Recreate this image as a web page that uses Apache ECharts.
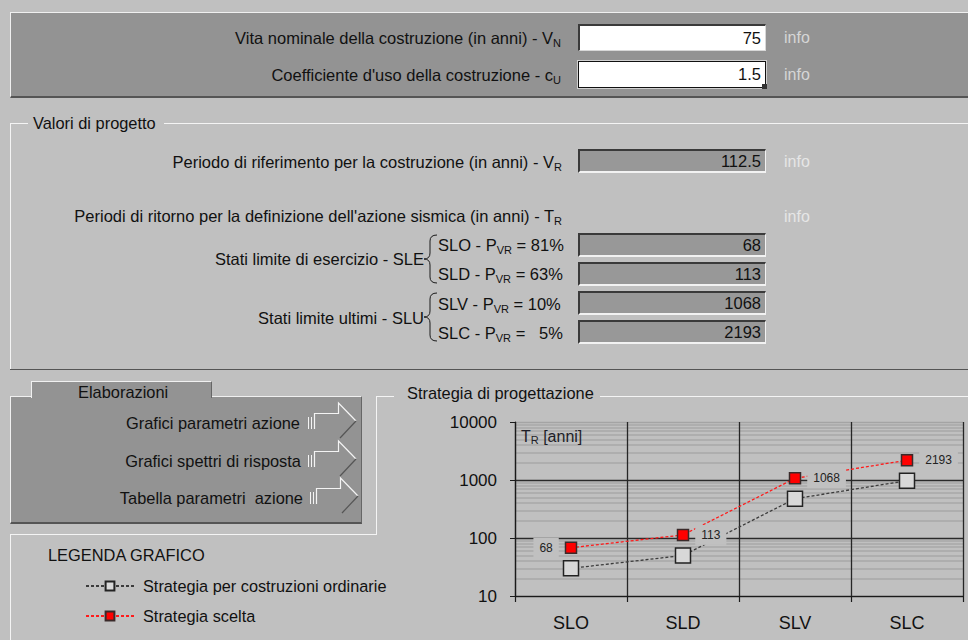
<!DOCTYPE html>
<html>
<head>
<meta charset="utf-8">
<script src="https://cdn.jsdelivr.net/npm/echarts@6.0.0/dist/echarts.min.js"></script>
<style>
  html, body { margin: 0; padding: 0; }
  body {
    width: 968px; height: 640px; overflow: hidden; position: relative;
    background: #c0c0c0;
    font: 16.5px "Liberation Sans", Arial, sans-serif; color: #111;
  }
  .abs { position: absolute; }
  .t { position: absolute; white-space: nowrap; line-height: 18px; }
  .s { font-size: 16.4px; }
  .r { text-align: right; left: 0; }
  sub { font-size: 11px; vertical-align: -3px; line-height: 0; }
  .info { position: absolute; left: 784px; line-height: 18px; color: #e6e6e6; font-size: 16px; }
  .inp {
    position: absolute; left: 578px; width: 188px; box-sizing: border-box;
    background: #fff; text-align: right; padding-right: 4px;
    border-top: 2px solid #3a3a3a; border-left: 2px solid #3a3a3a;
    border-right: 1px solid #d8d8d8; border-bottom: 1px solid #d8d8d8;
  }
  .fld {
    position: absolute; left: 578px; width: 188px; height: 24px; box-sizing: border-box;
    background: #989898; text-align: right; padding-right: 4px; line-height: 21px;
    border-top: 2px solid #3a3a3a; border-left: 2px solid #3a3a3a;
    border-right: 1px solid #f2f2f2; border-bottom: 2px solid #f2f2f2;
  }
  .wl { position: absolute; background: #f4f4f4; }
  .dl { position: absolute; background: #555; }
  #chart { position: absolute; left: 0; top: 0; width: 968px; height: 640px; z-index: 2; }
  svg.deco { position: absolute; left: 0; top: 0; z-index: 1; }
</style>
</head>
<body>

<!-- pannello superiore -->
<div class="abs" style="left:10px;top:12px;width:958px;height:86px;background:#939393;border-top:1px solid #f0f0f0;border-left:1px solid #f0f0f0;border-bottom:2px solid #555;box-sizing:border-box;"></div>
<div class="t r" style="width:561px;top:29px;">Vita nominale della costruzione (in anni) - V<sub>N</sub></div>
<div class="t r" style="width:561px;top:66px;">Coefficiente d'uso della costruzione - c<sub>U</sub></div>
<div class="inp" id="vn" style="top:24px;height:27px;line-height:24px;"></div>
<div class="inp" id="cu" style="top:61px;height:27px;line-height:24px;border:1px solid #111;outline:1px solid #d0d0d0;"></div>
<div class="abs" style="left:762px;top:84px;width:5px;height:5px;background:#333;"></div>
<div class="info" style="top:29px;color:#d6d6d6;">info</div>
<div class="info" style="top:66px;color:#d6d6d6;">info</div>

<!-- valori di progetto -->
<div class="wl" style="left:11px;top:123px;width:17px;height:1px;"></div>
<div class="wl" style="left:164px;top:123px;width:804px;height:1px;"></div>
<div class="wl" style="left:10px;top:123px;width:1px;height:247px;"></div>
<div class="dl" style="left:10px;top:369px;width:958px;height:1px;"></div>
<div class="t s" style="left:33px;top:114px;">Valori di progetto</div>

<div class="t r" style="width:562px;top:153px;">Periodo di riferimento per la costruzione (in anni) - V<sub>R</sub></div>
<div class="fld" id="vr" style="top:149px;"></div>
<div class="info" style="top:153px;">info</div>

<div class="t r" style="width:562px;top:207px;">Periodi di ritorno per la definizione dell'azione sismica (in anni) - T<sub>R</sub></div>
<div class="info" style="top:208px;">info</div>

<div class="t r" style="width:424px;top:250px;">Stati limite di esercizio - SLE</div>
<div class="t r" style="width:424px;top:309px;">Stati limite ultimi - SLU</div>
<div class="t" style="left:438px;top:236px;">SLO - P<sub>VR</sub> = 81%</div>
<div class="t" style="left:438px;top:265px;">SLD - P<sub>VR</sub> = 63%</div>
<div class="t" style="left:438px;top:295px;">SLV - P<sub>VR</sub> = 10%</div>
<div class="t" style="left:438px;top:324px;">SLC - P<sub>VR</sub> =&nbsp;&nbsp; 5%</div>
<div class="fld" id="tr0" style="top:233px;"></div>
<div class="fld" id="tr1" style="top:262px;"></div>
<div class="fld" id="tr2" style="top:291px;"></div>
<div class="fld" id="tr3" style="top:320px;"></div>

<!-- elaborazioni -->
<div class="abs" style="left:10px;top:396px;width:352px;height:128px;background:#939393;box-sizing:border-box;border-top:1px solid #f0f0f0;border-left:1px solid #f0f0f0;border-bottom:2px solid #555;border-right:1px solid #666;"></div>
<div class="abs" style="left:31px;top:381px;width:181px;height:17px;background:#939393;box-sizing:border-box;border-top:1px solid #f0f0f0;border-left:1px solid #f0f0f0;border-right:1px solid #666;"></div>
<div class="t s" style="left:78px;top:383px;">Elaborazioni</div>
<div class="t r s" style="width:300px;top:414px;">Grafici parametri azione</div>
<div class="t r s" style="width:301px;top:452px;">Grafici spettri di risposta</div>
<div class="t r s" style="width:303px;top:489px;">Tabella parametri&nbsp; azione</div>

<!-- cornici legenda / grafico -->
<div class="wl" style="left:10px;top:534px;width:367px;height:1px;"></div>
<div class="wl" style="left:10px;top:534px;width:1px;height:106px;"></div>
<div class="wl" style="left:376px;top:396px;width:1px;height:139px;"></div>
<div class="wl" style="left:376px;top:396px;width:18px;height:1px;"></div>
<div class="wl" style="left:600px;top:396px;width:368px;height:1px;"></div>
<div class="t s" style="left:407px;top:384px;">Strategia di progettazione</div>
<div class="t s" style="left:48px;top:546px;">LEGENDA GRAFICO</div>

<svg class="deco" width="968" height="640">
  <g fill="none" stroke="#1a1a1a" stroke-width="1">
    <path d="M437 235 Q430 235 430 241 L430 253 Q430 259 424 259 Q430 259 430 265 L430 277 Q430 283 437 283"/>
    <path d="M437 293 Q430 293 430 299 L430 311 Q430 317 424 317 Q430 317 430 323 L430 335 Q430 341 437 341"/>
  </g>
  <g id="arrows"></g>
</svg>

<div id="chart"></div>

<script>
// dati
const categories = ['SLO', 'SLD', 'SLV', 'SLC'];
const ordinaryTR = [30, 50, 475, 975];     // strategia per costruzioni ordinarie
const chosenTR = [68, 113, 1068, 2193];    // strategia scelta
const yTicks = [10, 100, 1000, 10000];
const minorGrid = [20, 30, 40, 50, 60, 70, 80, 90,
                   200, 300, 400, 500, 600, 700, 800, 900,
                   2000, 3000, 4000, 5000, 6000, 7000, 8000, 9000];
const vn = 75, cu = 1.5, vr = 112.5;

document.getElementById('vn').textContent = vn;
document.getElementById('cu').textContent = cu;
document.getElementById('vr').textContent = vr;
chosenTR.forEach(function (v, i) {
  document.getElementById('tr' + i).textContent = v;
});

// frecce dei pulsanti
(function () {
  const g = document.getElementById('arrows');
  const ys = [423, 461, 498];
  let html = '';
  ys.forEach(function (c, i) {
    const dx = i === 2 ? 2 : 0;
    html += '<g transform="translate(' + dx + ',' + (c - 423) + ')" fill="none">' +
      '<path d="M308.5 417 V429 M311.5 417 V429" stroke="#f4f4f4" stroke-width="1"/>' +
      '<path d="M314.5 429 V413.5 H338.5 V403 L356 421" stroke="#f4f4f4" stroke-width="1.2"/>' +
      '<path d="M356 421 L340 438" stroke="#555" stroke-width="1.2"/>' +
      '</g>';
  });
  g.innerHTML = html;
})();

const chart = echarts.init(document.getElementById('chart'), null, { renderer: 'svg' });

const chosenData = chosenTR.map(function (v, i) {
  return i === 0 ? { value: v, label: { position: 'left' } } : v;
});

chart.setOption({
  animation: false,
  backgroundColor: 'transparent',
  textStyle: { fontFamily: '"Liberation Sans", Arial, sans-serif' },
  grid: { left: 515, right: 5, top: 422, bottom: 44, containLabel: false },
  legend: {
    orient: 'vertical',
    left: 85,
    top: 578,
    padding: 0,
    itemWidth: 48,
    itemHeight: 11,
    itemGap: 14,
    textStyle: { fontSize: 16.3, color: '#111', padding: [0, 0, 0, 4] },
    data: ['Strategia per costruzioni ordinarie', 'Strategia scelta']
  },
  graphic: [{
    type: 'text',
    left: 521,
    top: 428,
    style: {
      text: '{a|T}{b|R}{a| [anni]}',
      rich: {
        a: { fontSize: 16, fill: '#1e1e28', fontFamily: '"Liberation Sans", Arial' },
        b: { fontSize: 11, fill: '#1e1e28', fontFamily: '"Liberation Sans", Arial', padding: [8, 0, 0, 0] }
      }
    },
    z: 10
  }],
  xAxis: {
    type: 'category',
    data: categories,
    boundaryGap: true,
    z: 1,
    axisLine: { lineStyle: { color: '#1a1a1a', width: 1.2 } },
    axisTick: { show: true, length: 6, lineStyle: { color: '#1a1a1a', width: 1.2 } },
    axisLabel: { fontSize: 18, color: '#111', margin: 18 },
    splitLine: { show: true, lineStyle: { color: '#262626', width: 1.3, type: 'solid' } }
  },
  yAxis: {
    type: 'log',
    logBase: 10,
    min: yTicks[0],
    max: yTicks[yTicks.length - 1],
    z: 1,
    axisLine: { show: true, lineStyle: { color: '#1a1a1a', width: 1.2 } },
    axisTick: { show: true, length: 5, lineStyle: { color: '#1a1a1a' } },
    axisLabel: { fontSize: 17, color: '#111', margin: 18, formatter: function (v) { return String(v); } },
    minorTick: { show: false },
    splitLine: { show: true, lineStyle: { color: ['#333', '#2a2a2a', '#2a2a2a', '#a4a4a4'], width: 1.3, type: 'solid' } }
  },
  series: [
    {
      name: 'Strategia per costruzioni ordinarie',
      type: 'line',
      data: ordinaryTR,
      z: 2,
      symbol: 'rect',
      symbolSize: 15,
      lineStyle: { color: '#3c3c3c', width: 1.3, type: [3, 2] },
      itemStyle: { color: '#d8d8d8', borderColor: '#222', borderWidth: 1.5 },
      markLine: {
        silent: true,
        symbol: 'none',
        z: 0,
        label: { show: false },
        lineStyle: { color: '#a8a8a8', width: 1.5, type: 'solid' },
        data: minorGrid.map(function (v) { return { yAxis: v }; })
      }
    },
    {
      name: 'Strategia scelta',
      type: 'line',
      data: chosenData,
      z: 3,
      symbol: 'rect',
      symbolSize: 11,
      lineStyle: { color: '#ff1a1a', width: 1.3, type: [3, 2] },
      itemStyle: { color: '#ff0000', borderColor: '#3a2a2a', borderWidth: 1.5 },
      label: {
        show: true,
        position: 'right',
        distance: 6,
        fontSize: 12,
        color: '#222',
        backgroundColor: '#c0c0c0',
        padding: [4, 6]
      }
    }
  ]
});
</script>
</body>
</html>
